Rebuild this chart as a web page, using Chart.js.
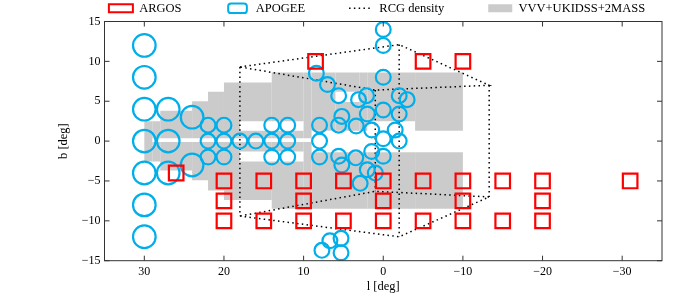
<!DOCTYPE html>
<html>
<head>
<meta charset="utf-8">
<script src="https://cdn.jsdelivr.net/npm/chart.js@4.4.1/dist/chart.umd.min.js"></script>
<style>
  html, body { margin: 0; padding: 0; background: #fff; }
  #wrap { width: 700px; height: 296px; }
</style>
</head>
<body>
<div id="wrap"><canvas id="fieldsChart" width="700" height="296"></canvas></div>
<script>
// tick labels
const lTicks = [30, 20, 10, 0, -10, -20, -30];
const bTicks = [-15, -10, -5, 0, 5, 10, 15];

// ARGOS fields [l, b] in deg
const argosFields = [
    [26, -4],
    [20, -5], [15, -5], [10, -5], [5, -5], [0, -5], [-5, -5], [-10, -5], [-15, -5], [-20, -5], [-31, -5],
    [20, -7.5], [10, -7.5], [0, -7.5], [-10, -7.5], [-20, -7.5],
    [20, -10], [15, -10], [10, -10], [5, -10], [0, -10], [-5, -10], [-10, -10], [-15, -10], [-20, -10],
    [8.5, 10], [-5, 10], [-10, 10]
];

// APOGEE fields [l, b, field radius in deg]
const apogeeFields = [
    [30, 12, 1.42], [30, 8, 1.42], [30, 4, 1.42], [30, 0, 1.42], [30, -4, 1.42], [30, -8, 1.42], [30, -12, 1.42],
    [27, 4, 1.42], [27, 0, 1.42], [27, -4, 1.42],
    [24, 3, 1.42], [24, -3, 1.42],
    [22, 2, 0.93], [20, 2, 0.93], [14, 2, 0.93], [12, 2, 0.93],
    [22, 0, 0.93], [20, 0, 0.93], [18, 0, 0.93], [16, 0, 0.93], [14, 0, 0.93], [12, 0, 0.93],
    [22, -2, 0.93], [20, -2, 0.93], [14, -2, 0.93], [12, -2, 0.93],
    [8.4, 8.5, 0.93], [7, 7.1, 0.93], [5.6, 5.7, 0.93], [3.1, 5.2, 0.93], [2.1, 5.7, 0.93],
    [0, 14, 0.93], [0, 12, 0.93], [0, 8, 0.93],
    [-2, 5.7, 0.93], [-3, 5.2, 0.93],
    [0, 3.9, 0.93], [2, 3.4, 0.93], [-2, 3.4, 0.93], [5.2, 3.1, 0.93],
    [8, 2, 0.93], [5.6, 2, 0.93], [3.4, 1.9, 0.93], [1.45, 1.4, 0.93], [-1.5, 1.4, 0.93],
    [8, 0, 0.93], [0, 0.3, 0.93], [-2, 0, 0.93],
    [8, -2, 0.93], [5.6, -1.9, 0.93], [5.2, -3, 0.93], [3.45, -2.1, 0.93], [1.45, -1.3, 0.93],
    [0, -1.9, 0.93], [2, -3.6, 0.93], [1, -4, 0.93], [2.9, -5.3, 0.93],
    [6.7, -12.5, 0.93], [5.3, -12.2, 0.93], [7.7, -13.7, 0.93], [5.3, -14, 0.93]
];

// RCG density box corners [l, b]
const rcgTop = [[18, 9.3], [-2, 12.1], [-13.3, 7.0], [1, 6.4]];
const rcgBottom = [[18, -9.4], [-2, -12.0], [-13.3, -7.0], [1, -6.3]];

// VVV+UKIDSS+2MASS coverage cells [l1, l2, b1, b2]
const vvvCells = [
    [30, 29, -2.55, 2.5],
    [29, 28, 0.35, 2.5], [29, 28, -2.55, -0.1],
    [28, 24, 0.35, 3.8], [28, 24, -3.7, -0.1],
    [24, 22, 0.35, 5], [24, 22, -4.9, -0.1],
    [22, 20, 0.35, 6.2], [22, 20, -6.2, -0.1],
    [20, 18, 0.35, 7.35], [20, 18, -7.4, -0.1],
    [18, 14, 2.5, 7.35], [18, 14, 0.35, 1.3], [18, 14, -1.3, -0.1], [18, 14, -7.4, -2.55],
    [14, 10, 2.5, 8.6], [14, 10, 0.35, 1.3], [14, 10, -1.3, -0.1], [14, 10, -8.5, -2.55],
    [10, 9, 0.35, 8.6], [10, 9, -8.5, -0.1],
    [9, 6, 1.3, 8.6], [6, 3, 1.3, 4.9], [6, 3, 6.2, 8.6], [3, 2, 1.3, 8.6],
    [9, 2, -8.5, -1.4],
    [2, -4, 2.5, 8.6], [2, -4, -8.5, -1.4],
    [-4, -10, 1.3, 8.6], [-4, -10, -8.5, -1.4]
];

const RED = '#ff0000';
const CYAN = '#00aeea';
const GRAY = '#cbcbcb';
const SERIF = "'Liberation Serif', 'DejaVu Serif', serif";

function minus(v) {
    return String(v).replace('-', '\u2212');
}

// build broken polylines (null y breaks the line)
function rcgPath() {
    const pts = [];
    const pushLine = list => {
        list.forEach(p => pts.push({x: p[0], y: p[1]}));
        pts.push({x: list[0][0], y: null});
    };
    pushLine(rcgTop.concat([rcgTop[0]]));
    pushLine(rcgBottom.concat([rcgBottom[0]]));
    for (let i = 0; i < rcgTop.length; i++) {
        pushLine([rcgTop[i], rcgBottom[i]]);
    }
    return pts;
}

function vvvPath() {
    const pts = [];
    vvvCells.forEach(c => {
        pts.push({x: c[0], y: c[2]}, {x: c[1], y: c[2]}, {x: c[1], y: c[3]}, {x: c[0], y: c[3]});
        pts.push({x: c[0], y: null});
    });
    return pts;
}

const legendLook = {
    'ARGOS': {pointStyle: 'rect', fillStyle: 'rgba(0,0,0,0)', strokeStyle: RED, lineWidth: 2},
    'APOGEE': {pointStyle: 'rectRounded', fillStyle: 'rgba(0,0,0,0)', strokeStyle: CYAN, lineWidth: 2},
    'RCG density': {pointStyle: 'line', fillStyle: 'rgba(0,0,0,0)', strokeStyle: '#000', lineWidth: 1.5, lineDash: [1.5, 3.3]},
    'VVV+UKIDSS+2MASS': {pointStyle: 'rect', fillStyle: GRAY, strokeStyle: GRAY, lineWidth: 0}
};

// legend row sits a bit lower than chart.js puts it
const legendNudge = {
    id: 'legendNudge',
    beforeInit(chart) {
        const legend = chart.legend;
        if (!legend) return;
        const fit = legend.fit;
        legend.fit = function() {
            fit.call(this);
            this.height -= 3;
        };
    }
};

// frame with inward ticks on all four sides
const frameTicks = {
    id: 'frameTicks',
    afterDatasetsDraw(chart) {
        const {ctx, chartArea: a, scales} = chart;
        const len = 5;
        ctx.save();
        ctx.strokeStyle = '#333';
        ctx.lineWidth = 1;
        ctx.strokeRect(a.left, a.top, a.right - a.left, a.bottom - a.top);
        ctx.beginPath();
        scales.x.ticks.forEach(t => {
            const px = scales.x.getPixelForValue(t.value);
            ctx.moveTo(px, a.bottom); ctx.lineTo(px, a.bottom - len);
            ctx.moveTo(px, a.top); ctx.lineTo(px, a.top + len);
        });
        scales.y.ticks.forEach(t => {
            const py = scales.y.getPixelForValue(t.value);
            ctx.moveTo(a.left, py); ctx.lineTo(a.left + len, py);
            ctx.moveTo(a.right, py); ctx.lineTo(a.right - len, py);
        });
        ctx.stroke();
        ctx.restore();
    }
};

Chart.defaults.font.family = SERIF;
Chart.defaults.color = '#000';

const ctx = document.getElementById('fieldsChart').getContext('2d');
const fieldsChart = new Chart(ctx, {
    type: 'scatter',
    data: {
        datasets: [{
            label: 'ARGOS',
            data: argosFields.map(f => ({x: f[0], y: f[1]})),
            pointStyle: 'rect',
            pointRadius: 10.3,
            pointBorderWidth: 2.2,
            pointBorderColor: RED,
            pointBackgroundColor: 'rgba(0,0,0,0)',
            order: 0
        }, {
            label: 'APOGEE',
            data: apogeeFields.map(f => ({x: f[0], y: f[1]})),
            pointStyle: 'circle',
            pointRadius: c => {
                const s = c.chart.scales.x;
                const f = apogeeFields[c.dataIndex] || apogeeFields[0];
                return Math.abs(s.getPixelForValue(0) - s.getPixelForValue(f[2]));
            },
            pointBorderWidth: 2.2,
            pointBorderColor: CYAN,
            pointBackgroundColor: 'rgba(0,0,0,0)',
            order: 1
        }, {
            label: 'RCG density',
            data: rcgPath(),
            showLine: true,
            spanGaps: false,
            borderColor: '#000',
            borderWidth: 1.5,
            borderDash: [1.5, 3.3],
            pointRadius: 0,
            fill: false,
            order: 2
        }, {
            label: 'VVV+UKIDSS+2MASS',
            data: vvvPath(),
            showLine: true,
            spanGaps: false,
            borderWidth: 0,
            borderColor: GRAY,
            backgroundColor: GRAY,
            pointRadius: 0,
            fill: 'shape',
            order: 3
        }]
    },
    options: {
        responsive: false,
        animation: false,
        events: [],
        devicePixelRatio: 1,
        layout: {padding: {left: 54, right: 0, top: -42, bottom: 0}},
        scales: {
            x: {
                type: 'linear',
                position: 'bottom',
                min: -35,
                max: 35,
                reverse: true,
                afterBuildTicks: s => { s.ticks = lTicks.map(v => ({value: v})); },
                afterFit: s => { s.height = 35.3; },
                grid: {display: false, drawTicks: false},
                border: {display: false},
                ticks: {padding: 4, font: {size: 12}, callback: v => minus(v)},
                title: {display: true, text: 'l [deg]', font: {size: 12.5}, padding: {top: 0, bottom: 2}}
            },
            y: {
                type: 'linear',
                position: 'left',
                min: -15,
                max: 15,
                afterBuildTicks: s => { s.ticks = bTicks.map(v => ({value: v})); },
                afterFit: s => { s.width = 50.5; },
                grid: {display: false, drawTicks: false},
                border: {display: false},
                ticks: {padding: 4, font: {size: 12}, callback: v => minus(v)},
                title: {display: true, text: 'b [deg]', font: {size: 12.5}, padding: {top: 2.5, bottom: 0}}
            },
            y2: {
                type: 'linear',
                position: 'right',
                min: -15,
                max: 15,
                display: true,
                afterFit: s => { s.width = 38; },
                grid: {display: false, drawTicks: false},
                border: {display: false},
                ticks: {display: false}
            }
        },
        plugins: {
            tooltip: {enabled: false},
            legend: {
                position: 'top',
                align: 'center',
                labels: {
                    usePointStyle: true,
                    pointStyleWidth: 24,
                    boxHeight: 8,
                    padding: 44,
                    font: {size: 12.5},
                    generateLabels: chart => chart.data.datasets.map((ds, i) => Object.assign({
                        text: ds.label,
                        datasetIndex: i,
                        hidden: false
                    }, legendLook[ds.label]))
                }
            }
        }
    },
    plugins: [legendNudge, frameTicks]
});
</script>
</body>
</html>
